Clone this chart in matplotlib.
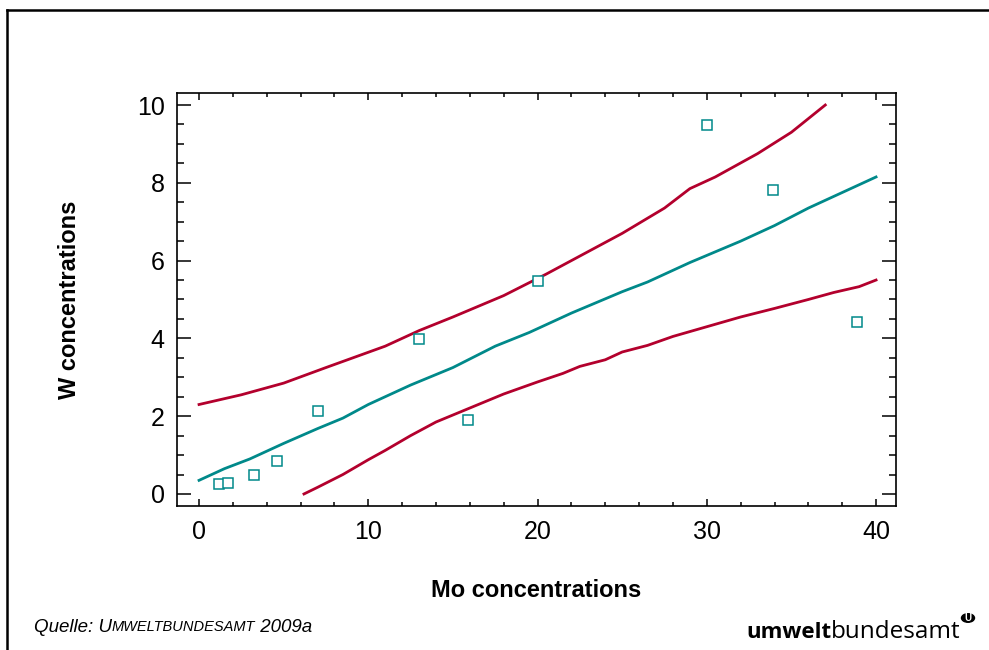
import matplotlib
matplotlib.use('Agg')
import matplotlib.pyplot as plt
from matplotlib.ticker import MultipleLocator
from matplotlib.patches import Circle
from matplotlib.lines import Line2D

# Messpunkte
mo_points = [1.2, 1.7, 3.25, 4.6, 7.0, 13.0, 15.9, 20.0, 30.0, 33.9, 38.9]
w_points = [0.26, 0.28, 0.49, 0.85, 2.13, 3.98, 1.9, 5.48, 9.49, 7.81, 4.42]

# Regressionslinie (Mitte)
fit_x = [0, 1.5, 3, 5, 7, 8.5, 10, 12.5, 15, 17.5, 19.5, 22, 25, 26.5, 29, 32, 34, 36, 40]
fit_y = [0.35, 0.65, 0.9, 1.3, 1.68, 1.95, 2.3, 2.8, 3.25, 3.8, 4.15, 4.65, 5.2, 5.45, 5.95, 6.5, 6.9, 7.35, 8.15]

# obere Grenze
upper_x = [0, 2.5, 5, 7.5, 11, 13, 15, 18, 20.5, 22, 25, 27.5, 29, 30.5, 33, 35, 37]
upper_y = [2.3, 2.55, 2.85, 3.25, 3.8, 4.2, 4.55, 5.1, 5.65, 6.0, 6.7, 7.35, 7.85, 8.15, 8.75, 9.3, 10.0]

# untere Grenze
lower_x = [6.2, 7, 8.5, 10, 11, 12.5, 14, 16.5, 18, 20, 21.5, 22.5, 24, 25, 26.5, 28, 30, 32, 34, 36, 37.5, 39, 40]
lower_y = [0.0, 0.17, 0.5, 0.88, 1.12, 1.5, 1.85, 2.3, 2.57, 2.88, 3.1, 3.28, 3.45, 3.65, 3.82, 4.05, 4.3, 4.55, 4.77, 5.0, 5.18, 5.33, 5.5]

teal = '#00898A'
red = '#B3002D'

plt.rcParams['font.family'] = ['Liberation Sans', 'DejaVu Sans']

fig = plt.figure(figsize=(9.89, 6.5), dpi=100)
ax = fig.add_axes([0.179, 0.2215, 0.727, 0.6355])

ax.plot(upper_x, upper_y, color=red, lw=2.0)
ax.plot(lower_x, lower_y, color=red, lw=2.0)
ax.plot(fit_x, fit_y, color=teal, lw=2.0)
ax.plot(mo_points, w_points, ls='none', marker='s', ms=7, mfc='white',
        mec=teal, mew=1.1)

ax.set_xlim(-1.3, 41.18)
ax.set_ylim(-0.31, 10.31)
ax.xaxis.set_major_locator(MultipleLocator(10))
ax.xaxis.set_minor_locator(MultipleLocator(2))
ax.yaxis.set_major_locator(MultipleLocator(2))
ax.yaxis.set_minor_locator(MultipleLocator(0.5))
ax.tick_params(axis='x', which='major', direction='in', length=5, width=1.1,
               top=True, labelsize=18, pad=10)
ax.tick_params(axis='x', which='minor', direction='in', length=3, width=1.1, top=True)
ax.tick_params(axis='y', which='major', direction='in', length=10, width=1.1,
               right=True, labelsize=18, pad=9)
ax.tick_params(axis='y', which='minor', direction='in', length=5, width=1.1, right=True)
for s in ax.spines.values():
    s.set_linewidth(1.2)

ax.set_xlabel('Mo concentrations', fontsize=17, fontweight='bold', labelpad=25)
ax.set_ylabel('W concentrations', fontsize=17, fontweight='bold', labelpad=40)

# Rahmen
fig.add_artist(Line2D([7 / 989, 1.0], [1 - 10 / 650, 1 - 10 / 650], color='black', lw=1.8,
                      transform=fig.transFigure))
fig.add_artist(Line2D([7 / 989, 7 / 989], [0, 1 - 10 / 650], color='black', lw=1.8,
                      transform=fig.transFigure))

# Quelle
yq = 1 - 627 / 650
t = fig.text(34 / 989, yq, 'Quelle: U', fontsize=13.5, style='italic', va='center')
fig.canvas.draw()
bb = t.get_window_extent()
t2 = fig.text(bb.x1 / 989, yq, 'MWELTBUNDESAMT', fontsize=10.5, style='italic',
              va='center')
fig.canvas.draw()
bb2 = t2.get_window_extent()
fig.text(bb2.x1 / 989, yq, ' 2009a', fontsize=13.5, style='italic', va='center')

# Logo
yl = 1 - 632 / 650
lt = fig.text(746 / 989, yl, 'umwelt', fontsize=16, fontweight='bold',
              family='Open Sans', va='center')
fig.canvas.draw()
lb = lt.get_window_extent()
lt2 = fig.text(lb.x1 / 989, yl, 'bundesamt', fontsize=17.5, family='Open Sans',
               va='center')
cx, cy = 968, 650 - 618
fig.add_artist(Circle((cx / 989, cy / 650), 6.5 / 989, transform=fig.transFigure,
                      color='black'))
fig.text(cx / 989, cy / 650, 'U', fontsize=7, fontweight='bold', color='white',
         ha='center', va='center')

plt.savefig('out.png', dpi=100)
